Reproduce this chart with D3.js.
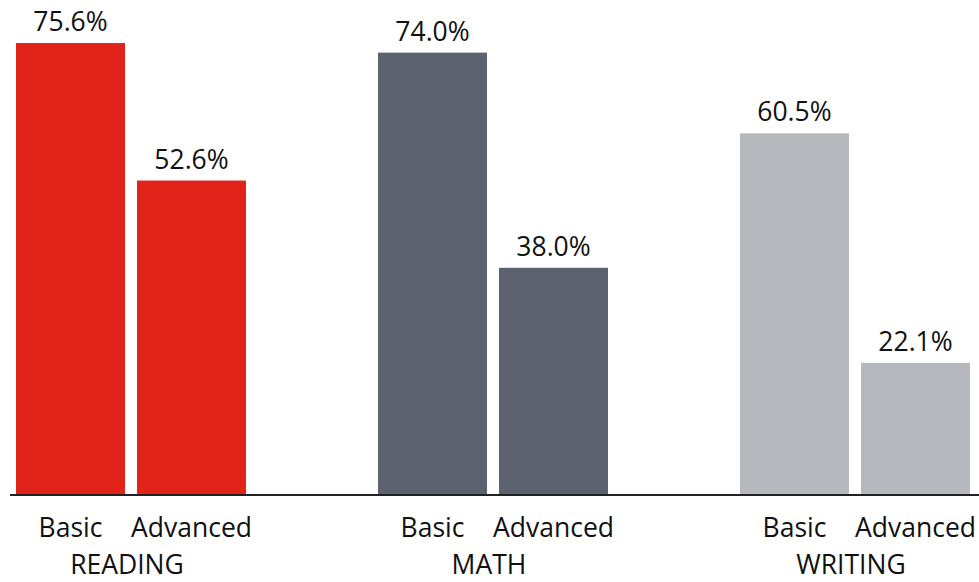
<!DOCTYPE html>
<html>
<head>
<meta charset="utf-8">
<script src="https://cdn.jsdelivr.net/npm/d3@7"></script>
<style>
  html, body { margin: 0; padding: 0; background: #fff; }
  svg { display: block; font-family: "Open Sans", sans-serif; }
</style>
</head>
<body>
<svg id="chart" width="979" height="582"></svg>
<script>
// Subjects, levels and percentages shown in the chart
const subjects = ["READING", "MATH", "WRITING"];
const levels = ["Basic", "Advanced"];
const basicValues = [75.6, 74.0, 60.5];
const advancedValues = [52.6, 38.0, 22.1];
const subjectColors = ["#e2231a", "#5c6270", "#b5b9bd"];

const rows = subjects.map((s, i) => ({
  subject: s,
  color: subjectColors[i],
  values: [
    { level: levels[0], value: basicValues[i] },
    { level: levels[1], value: advancedValues[i] }
  ]
}));

const svg = d3.select("#chart");
const baseY = 495;
const fontSize = 26.5;

const x0 = d3.scaleBand()
  .domain(subjects)
  .range([16, 970])
  .paddingInner(0.3646)
  .paddingOuter(0);

const x1 = d3.scaleBand()
  .domain(levels)
  .range([0, x0.bandwidth()])
  .paddingInner(0.0992)
  .paddingOuter(0);

const y = d3.scaleLinear()
  .domain([0, 82.8])
  .range([baseY, 0]);

const groups = svg.selectAll("g.subject")
  .data(rows)
  .join("g")
  .attr("class", "subject")
  .attr("transform", d => `translate(${x0(d.subject)},0)`);

groups.selectAll("rect")
  .data(d => d.values.map(v => ({ ...v, color: d.color })))
  .join("rect")
  .attr("x", d => x1(d.level))
  .attr("y", d => y(d.value))
  .attr("width", x1.bandwidth())
  .attr("height", d => baseY - y(d.value))
  .attr("fill", d => d.color);

// value labels above bars
groups.selectAll("text.value")
  .data(d => d.values)
  .join("text")
  .attr("class", "value")
  .attr("x", d => x1(d.level) + x1.bandwidth() / 2)
  .attr("y", d => y(d.value) - 12)
  .attr("text-anchor", "middle")
  .attr("font-size", fontSize)
  .attr("fill", "#111")
  .text(d => d.value.toFixed(1) + "%");

// level labels under each bar
groups.selectAll("text.level")
  .data(d => d.values)
  .join("text")
  .attr("class", "level")
  .attr("x", d => x1(d.level) + x1.bandwidth() / 2)
  .attr("y", 537)
  .attr("text-anchor", "middle")
  .attr("font-size", fontSize)
  .attr("fill", "#111")
  .text(d => d.level);

// subject name under each group
groups.append("text")
  .attr("class", "subject-label")
  .attr("x", x0.bandwidth() / 2 - 4)
  .attr("y", 574)
  .attr("text-anchor", "middle")
  .attr("font-size", fontSize)
  .attr("fill", "#111")
  .text(d => d.subject);

// baseline
svg.append("line")
  .attr("x1", 10)
  .attr("x2", 979)
  .attr("y1", baseY)
  .attr("y2", baseY)
  .attr("stroke", "#222")
  .attr("stroke-width", 2);
</script>
</body>
</html>
